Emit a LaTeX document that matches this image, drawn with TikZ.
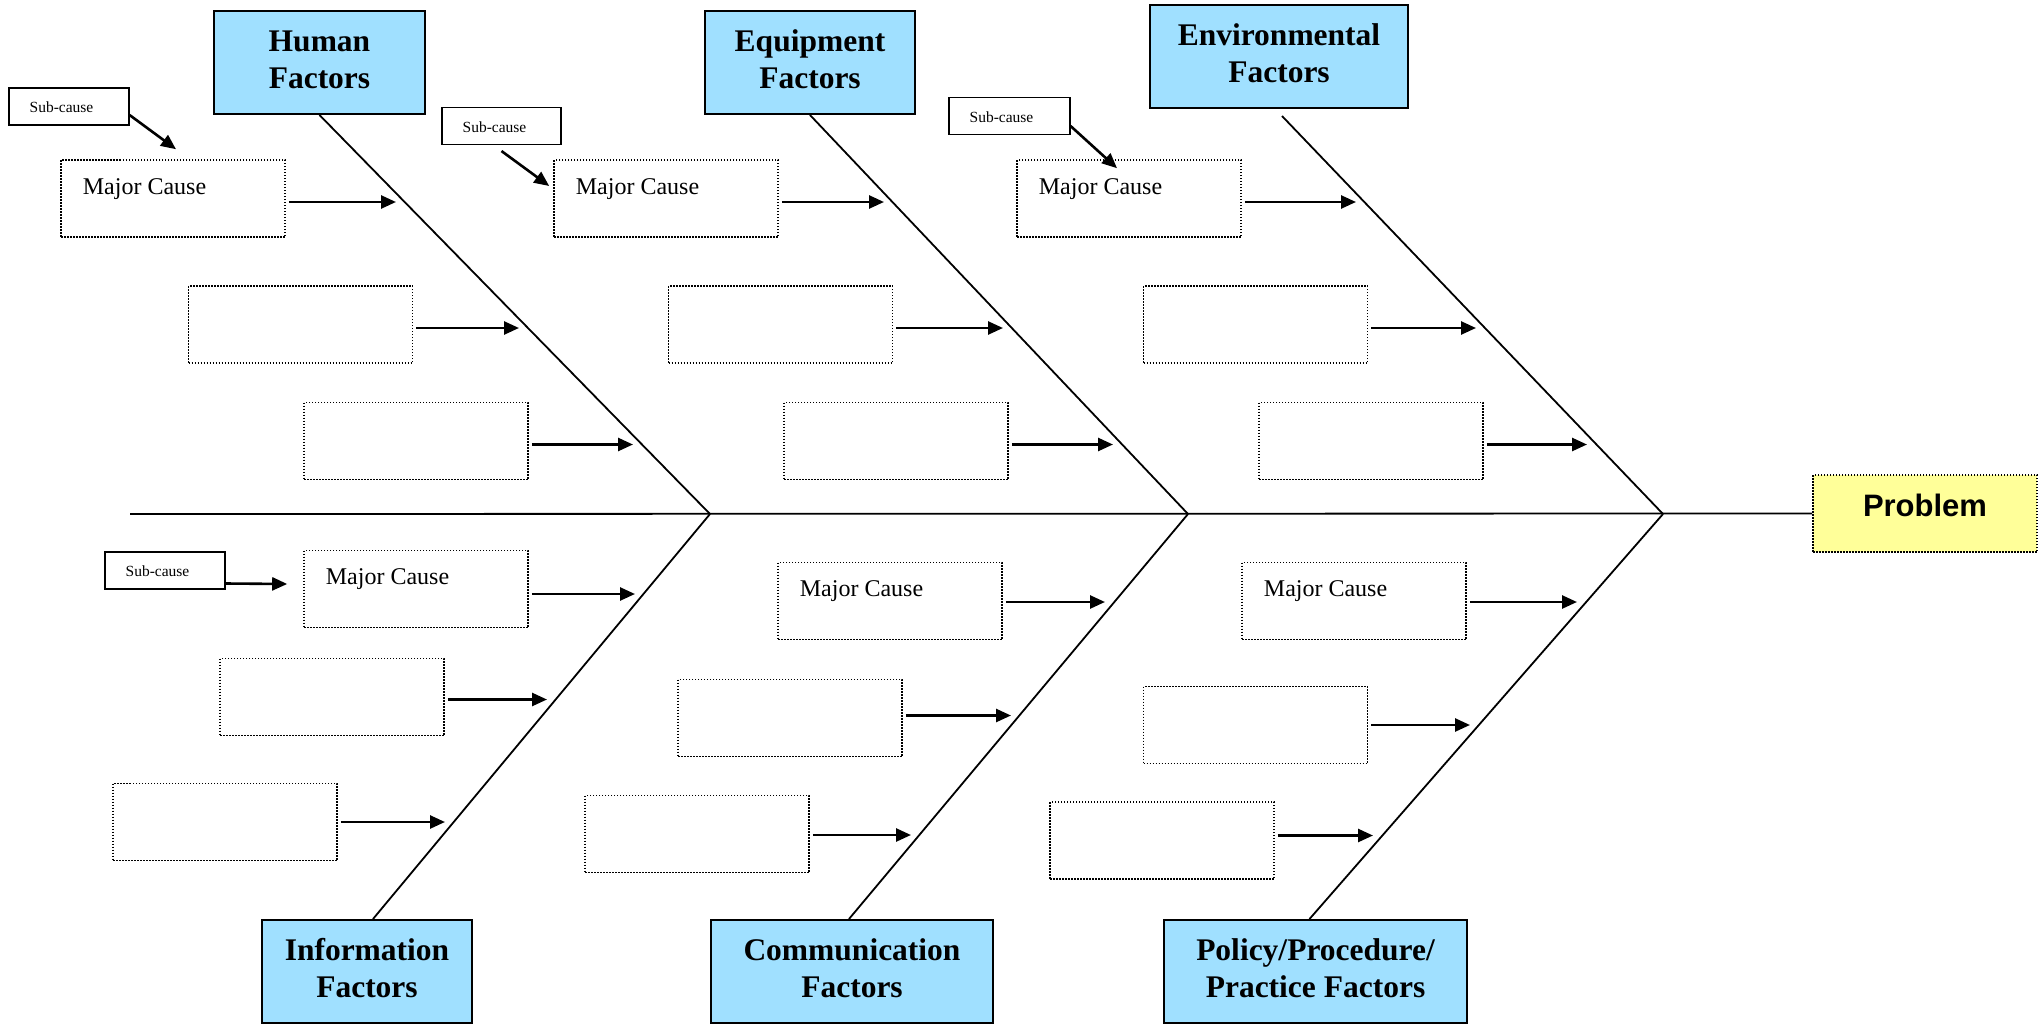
\documentclass[tikz,border=0pt]{standalone}
\usepackage{fontspec}
\setmainfont{Liberation Serif}
\newfontfamily\probfont{Liberation Sans}
\usetikzlibrary{arrows.meta}
\definecolor{hdrblue}{RGB}{160,224,255}
\definecolor{probyellow}{RGB}{255,255,153}
\newcommand\hdrtxt[1]{\begin{tabular}{@{}c@{}}#1\end{tabular}}
\tikzset{
  hdr/.style={draw, line width=2pt, fill=hdrblue, inner sep=0pt,
    font=\fontsize{31.5}{37.5}\selectfont\bfseries, minimum height=103pt},
  mc/.style={draw, line width=1.6pt, dash pattern=on 1.5pt off 1.5pt,
    minimum width=224pt, minimum height=77pt, inner sep=0pt},
  mclab/.style={anchor=base west, xshift=22.5pt, yshift=-35pt, inner sep=0pt,
    font=\fontsize{24}{28}\selectfont},
  subc/.style={draw, line width=1.1pt, minimum width=120pt, minimum height=37pt, inner sep=0pt},
  sublab/.style={anchor=west, xshift=21pt, yshift=-1pt, inner sep=0pt, font=\fontsize{15.5}{18}\selectfont},
  bone/.style={line width=1.8pt},
  arr/.style={line width=2.6pt, -{Triangle[length=15pt,width=13pt]}},
  prob/.style={draw, line width=1.6pt, dash pattern=on 1.5pt off 1.5pt, fill=probyellow,
    minimum width=224pt, minimum height=77pt, inner sep=0pt,
    font=\probfont\bfseries\fontsize{31}{36}\selectfont}
}
\begin{document}
\begin{tikzpicture}[x=1pt,y=-1pt]
\useasboundingbox (0,0) rectangle (2040,1025);
% header boxes
\node[hdr, minimum width=211pt] (hum) at (319.5,62.5) {\hdrtxt{Human\\Factors}};
\node[hdr, minimum width=210pt] (equ) at (810,62.5) {\hdrtxt{Equipment\\Factors}};
\node[hdr, minimum width=258pt] (env) at (1279,56.5) {\hdrtxt{Environmental\\Factors}};
\node[hdr, minimum width=210pt] (inf) at (367,971.5) {\hdrtxt{Information\\Factors}};
\node[hdr, minimum width=282pt] (com) at (852,971.5) {\hdrtxt{Communication\\Factors}};
\node[hdr, minimum width=303pt] (pol) at (1315.5,971.5) {\hdrtxt{Policy/Procedure/\\Practice Factors}};
% problem
\node[prob] (prob) at (1925,513.5) {\raisebox{8pt}[\height][\depth]{Problem}};
% spine and joints
\coordinate (tail) at (130,514);
\coordinate (J1) at (710,514);
\coordinate (J2) at (1188,514);
\coordinate (J3) at (1663,514);
\draw[bone] (tail) -- (prob.west);
\draw[bone] (hum.south) -- (J1);
\draw[bone] (equ.south) -- (J2);
\draw[bone] ([xshift=3pt,yshift=-7pt]env.south) -- (J3);
\draw[bone] (J1) -- ([xshift=6pt]inf.north);
\draw[bone] (J2) -- ([xshift=-3pt]com.north);
\draw[bone] (J3) -- ([xshift=-6pt]pol.north);
% major cause boxes
\node[mc, label={[mclab]north west:Major Cause}] (h1) at (173,198.5) {};
\node[mc] (h2) at (300.5,324.5) {};
\node[mc] (h3) at (416,441) {};
\node[mc, label={[mclab]north west:Major Cause}] (e1) at (666,198.5) {};
\node[mc] (e2) at (780.5,324.5) {};
\node[mc] (e3) at (896,441) {};
\node[mc, label={[mclab]north west:Major Cause}] (v1) at (1129,198.5) {};
\node[mc] (v2) at (1255.5,324.5) {};
\node[mc] (v3) at (1371,441) {};
\node[mc, label={[mclab]north west:Major Cause}] (i1) at (416,589) {};
\node[mc] (i2) at (332,697) {};
\node[mc] (i3) at (225,822) {};
\node[mc, label={[mclab]north west:Major Cause}] (c1) at (890,601) {};
\node[mc] (c2) at (790,718) {};
\node[mc] (c3) at (697,834) {};
\node[mc, label={[mclab]north west:Major Cause}] (p1) at (1354,601) {};
\node[mc] (p2) at (1255.5,725) {};
\node[mc] (p3) at (1162,840.5) {};
% arrow tips on bones
\coordinate (th1) at (396,202);
\coordinate (th2) at (519,328);
\coordinate (th3) at (633,444.5);
\coordinate (te1) at (884,202);
\coordinate (te2) at (1003,328);
\coordinate (te3) at (1113,444.5);
\coordinate (tv1) at (1356,202);
\coordinate (tv2) at (1476,328);
\coordinate (tv3) at (1587,444.5);
\coordinate (ti1) at (635,594);
\coordinate (ti2) at (547,699.5);
\coordinate (ti3) at (445,822);
\coordinate (tc1) at (1105,602);
\coordinate (tc2) at (1011,715.5);
\coordinate (tc3) at (911,835);
\coordinate (tp1) at (1577,602);
\coordinate (tp2) at (1470,725);
\coordinate (tp3) at (1373,835.5);
\foreach \b/\d in {h1/-3.5,h2/-3.5,h3/-3.5,e1/-3.5,e2/-3.5,e3/-3.5,v1/-3.5,v2/-3.5,v3/-3.5,
  i1/-5,i2/-2.5,i3/0,c1/-1,c2/2.5,c3/-1,p1/-1,p2/0,p3/5}{
  \draw[arr] ([xshift=3pt,yshift=\d pt]\b.east) -- (t\b);
}
% sub-cause boxes
\node[subc, label={[sublab]west:Sub-cause}] (s1) at (69,106.5) {};
\node[subc, minimum width=119pt, label={[sublab]west:Sub-cause}] (s2) at (501.5,126) {};
\node[subc, minimum width=121pt, label={[sublab]west:Sub-cause}] (s3) at (1009.5,116) {};
\node[subc, label={[sublab]west:Sub-cause}] (s4) at (165,570.5) {};
\draw[arr] ([yshift=-8.5pt]s1.east) -- ([xshift=3pt,yshift=10pt]h1.north);
\draw[arr] ([yshift=-6pt]s2.south) -- ([xshift=-4pt,yshift=12.5pt]e1.west);
\draw[arr] ([yshift=-10pt]s3.east) -- ([xshift=-12pt,yshift=-9pt]v1.north);
\draw[arr] ([yshift=-13pt]s4.east) -- ([xshift=-16pt,yshift=5pt]i1.west);
\end{tikzpicture}
\end{document}
